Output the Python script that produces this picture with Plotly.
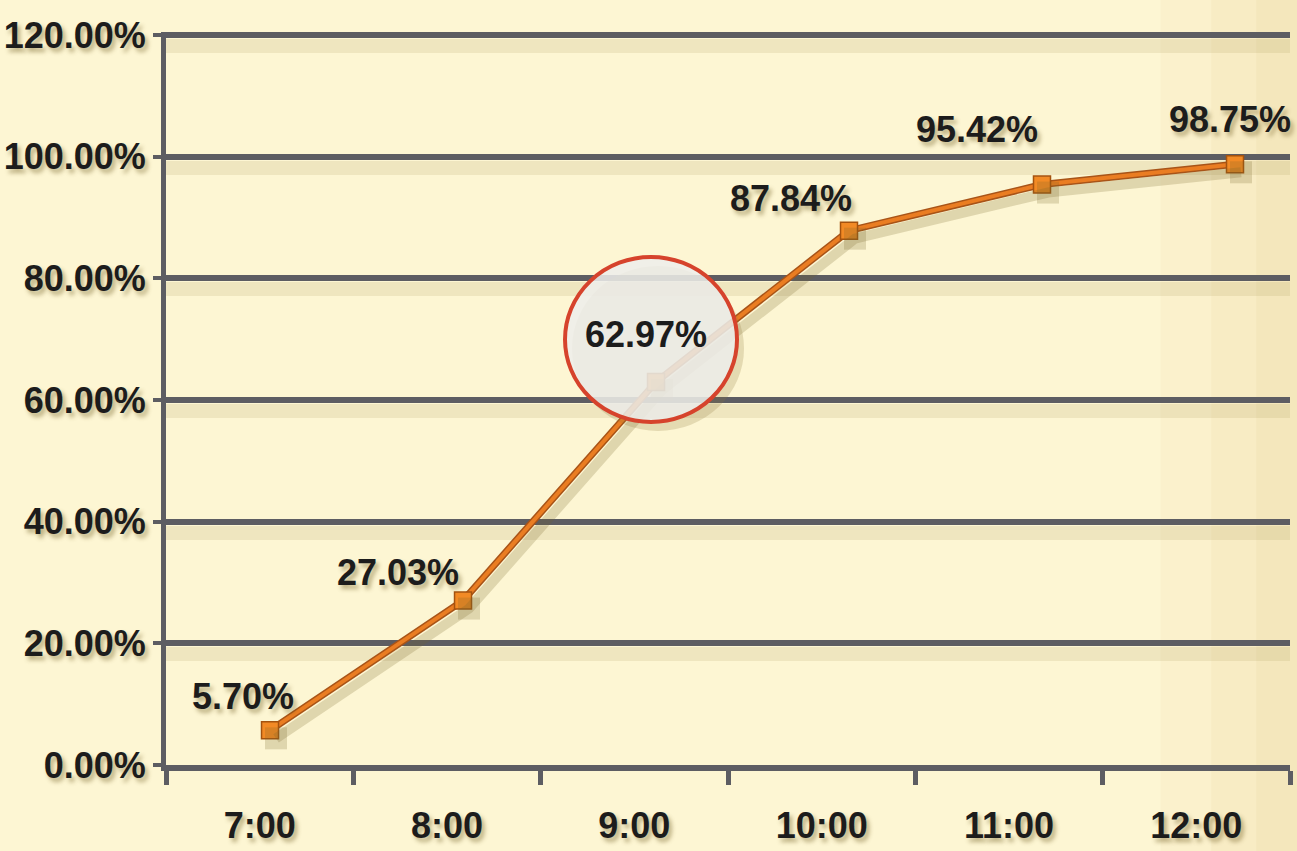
import plotly.graph_objects as go

# ---- data ----
categories = ["7:00", "8:00", "9:00", "10:00", "11:00", "12:00"]
values = [5.70, 27.03, 62.97, 87.84, 95.42, 98.75]
y_ticks = [0, 20, 40, 60, 80, 100, 120]
y_tick_labels = [f"{v:.2f}%" for v in y_ticks]
highlight_index = 2

# ---- style ----
FONT = "Liberation Sans, Arial, sans-serif"
TICK_SIZE = 36
LABEL_SIZE = 36
TXT_SHADOW = "3px 4px 4px rgba(110,90,30,0.45)"
GRID = "#5d5d62"
BG = "#fdf6d3"
ORANGE = "#ea7d22"

W, H = 1297, 851
ML, MR, MT, MB = 166, 7, 32, 86
PW = W - ML - MR
PH = H - MT - MB
y_rng = [0, 120.5]
px_per_unit_y = PH / (y_rng[1] - y_rng[0])

# series axis (points sit slightly right of category centres, as in the picture)
x2_rng = [-0.539, 5.285]
px_per_unit_x2 = PW / (x2_rng[1] - x2_rng[0])
# shadow axes: shifted by a few pixels right/down
sdx, sdy = 6, 8
x3_rng = [x2_rng[0] - sdx / px_per_unit_x2, x2_rng[1] - sdx / px_per_unit_x2]
y3_rng = [y_rng[0] + sdy / px_per_unit_y, y_rng[1] + sdy / px_per_unit_y]
gshift = 11
y2_rng = [y_rng[0] + gshift / px_per_unit_y, y_rng[1] + gshift / px_per_unit_y]

label_offsets = [(-27, 34), (-65, 28), (-10, 47), (-58, 32), (-65, 55), (-5, 45)]

idx = list(range(len(categories)))

fig = go.Figure()

# invisible trace to establish category axis
fig.add_trace(go.Scatter(x=categories, y=[None] * len(categories), xaxis="x", yaxis="y",
                         mode="markers", showlegend=False, hoverinfo="skip"))
# gridline-shadow axis helper
fig.add_trace(go.Scatter(x=idx, y=[None] * len(idx), xaxis="x2", yaxis="y2",
                         mode="markers", showlegend=False, hoverinfo="skip"))
# line shadow
fig.add_trace(go.Scatter(x=idx, y=values, xaxis="x3", yaxis="y3", mode="lines+markers",
                         line=dict(color="rgba(120,100,40,0.22)", width=10),
                         marker=dict(symbol="square", size=22, color="rgba(120,100,40,0.22)"),
                         showlegend=False, hoverinfo="skip"))
# line outline
fig.add_trace(go.Scatter(x=idx, y=values, xaxis="x2", yaxis="y", mode="lines",
                         line=dict(color="#a85418", width=7),
                         showlegend=False, hoverinfo="skip"))
# main line
fig.add_trace(go.Scatter(x=idx, y=values, xaxis="x2", yaxis="y", mode="lines+markers",
                         line=dict(color=ORANGE, width=4),
                         marker=dict(symbol="square", size=17, color="#f28a25",
                                     line=dict(color="#a4520f", width=1.5)),
                         showlegend=False))

annotations = []
for i, v in enumerate(values):
    dx, dy = label_offsets[i]
    annotations.append(dict(x=i, y=v, xref="x2", yref="y", text=f"{v:.2f}%", showarrow=False,
                            xshift=dx, yshift=dy,
                            font=dict(family=FONT, size=LABEL_SIZE, color="#1c1c1c", weight="bold",
                                      shadow=TXT_SHADOW if i != highlight_index else "none")))

shapes = []
# right-side slightly darker band
for k, (x0, a) in enumerate([(0.885, 0.08), (0.93, 0.10), (0.97, 0.12)]):
    shapes.append(dict(type="rect", xref="paper", yref="paper", x0=x0, x1=1.01, y0=-0.13, y1=1.05,
                       fillcolor=f"rgba(225,195,130,{a})", line=dict(width=0), layer="below"))
# y axis line extension below zero
shapes.append(dict(type="line", xref="paper", yref="y", x0=0, x1=0, ysizemode="pixel",
                   yanchor=0, y0=-14, y1=0, line=dict(color=GRID, width=5)))
# highlight circle shadow + circle
hv = values[highlight_index]
shapes.append(dict(type="circle", xref="x2", yref="y", xsizemode="pixel", ysizemode="pixel",
                   xanchor=highlight_index, yanchor=hv, x0=-91 + 7, x1=81 + 7, y0=-40 - 9, y1=125 - 9,
                   fillcolor="rgba(140,120,60,0.22)", line=dict(width=0), layer="above"))
shapes.append(dict(type="circle", xref="x2", yref="y", xsizemode="pixel", ysizemode="pixel",
                   xanchor=highlight_index, yanchor=hv, x0=-91, x1=81, y0=-40, y1=125,
                   fillcolor="rgba(238,238,235,0.86)", line=dict(color="#d6432c", width=4),
                   layer="above"))

tickfont = dict(family=FONT, size=TICK_SIZE, color="#1c1c1c", weight="bold", shadow=TXT_SHADOW)

fig.update_layout(
    width=W, height=H,
    margin=dict(l=ML, r=MR, t=MT, b=MB, autoexpand=False),
    paper_bgcolor=BG, plot_bgcolor=BG,
    showlegend=False,
    xaxis=dict(type="category", categoryorder="array", categoryarray=categories,
               range=[-0.5, len(categories) - 0.5], tickson="boundaries",
               ticks="outside", ticklen=14, tickwidth=5, tickcolor=GRID,
               showgrid=False, showline=True, linecolor=GRID, linewidth=6,
               zeroline=False, automargin=False,
               tickfont=tickfont, ticklabelstandoff=24, fixedrange=True),
    yaxis=dict(range=y_rng, tickvals=y_ticks, ticktext=y_tick_labels,
               ticks="outside", ticklen=8, tickwidth=4, tickcolor=GRID,
               showgrid=True, gridcolor=GRID, gridwidth=6, automargin=False,
               showline=True, linecolor=GRID, linewidth=5, zeroline=False,
               tickfont=tickfont, ticklabelstandoff=0, fixedrange=True),
    xaxis2=dict(range=x2_rng, overlaying="x", visible=False, fixedrange=True),
    yaxis2=dict(range=y2_rng, overlaying="y", tickvals=y_ticks, showgrid=True,
                gridcolor="rgba(170,150,90,0.16)", gridwidth=14, showticklabels=False,
                ticks="", showline=False, zeroline=False, fixedrange=True),
    xaxis3=dict(range=x3_rng, overlaying="x", visible=False, fixedrange=True),
    yaxis3=dict(range=y3_rng, overlaying="y", visible=False, fixedrange=True),
    annotations=annotations,
    shapes=shapes,
)

fig.write_html("out.html", config={"displayModeBar": False},
               post_script="document.body.style.margin='0';")
